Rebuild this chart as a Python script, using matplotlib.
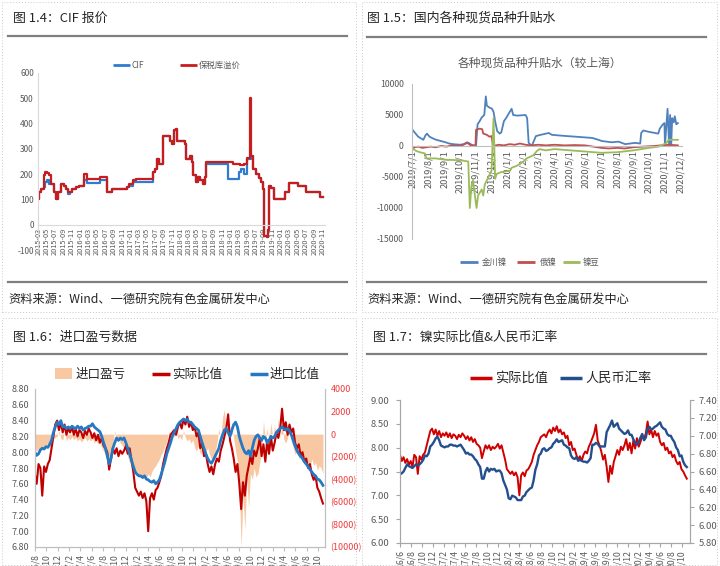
import numpy as np
import pandas as pd
import matplotlib as mpl
mpl.use('Agg')
import matplotlib.pyplot as plt
from matplotlib.lines import Line2D
from matplotlib.patches import Rectangle
import matplotlib.ticker as mticker

plt.rcParams['font.family'] = ['Noto Sans CJK SC', 'DejaVu Sans']
plt.rcParams['axes.unicode_minus'] = False

W, H = 720, 566
GRAY = '#595959'

# ---------------- 图1.4 CIF报价 (step data) ----------------
prem_dates = ['2015-03-01', '2015-03-05', '2015-03-20', '2015-04-08', '2015-04-20', '2015-05-05',
              '2015-05-15', '2015-06-01', '2015-06-20', '2015-07-10', '2015-07-25', '2015-08-15',
              '2015-09-01', '2015-09-15', '2015-10-01', '2015-11-01', '2015-12-01', '2015-12-20',
              '2016-01-25', '2016-02-15', '2016-05-20', '2016-07-12', '2016-08-15', '2016-12-05',
              '2016-12-20', '2017-01-22', '2017-02-10', '2017-06-10', '2017-06-25', '2017-07-10',
              '2017-07-15', '2017-07-25', '2017-08-28', '2017-10-15', '2017-10-28', '2017-11-10',
              '2017-11-25', '2017-12-08', '2018-02-01', '2018-02-12', '2018-03-10', '2018-03-25',
              '2018-04-03', '2018-04-20', '2018-05-10', '2018-05-25', '2018-06-10', '2018-06-25',
              '2018-07-03', '2019-01-20', '2019-03-10', '2019-04-10', '2019-05-01', '2019-05-20',
              '2019-05-22', '2019-05-26', '2019-06-12', '2019-07-06', '2019-07-25', '2019-08-12',
              '2019-08-25', '2019-08-30', '2019-09-20', '2019-09-30', '2019-10-10', '2019-10-25',
              '2019-11-10', '2020-02-01', '2020-03-03', '2020-05-03', '2020-07-03', '2020-10-10',
              '2020-11-05']
prem_vals = [100, 130, 140, 195, 210, 205,
             195, 160, 130, 100, 130, 160,
             155, 140, 130, 140, 150, 155,
             200, 180, 190, 130, 140, 150,
             160, 175, 180, 210, 220, 235,
             260, 240, 350, 330, 320, 375,
             380, 330, 320, 260, 270, 250,
             195, 170, 190, 175, 160, 190,
             250, 240, 235, 240, 265, 275,
             500, 270, 220, 200, 185, 170,
             140, -45, -50, -20, 155, 145,
             100, 130, 165, 155, 130, 110,
             110]

cif_dates = ['2015-03-01', '2015-03-05', '2015-03-20', '2015-04-08', '2015-04-20', '2015-05-05',
             '2015-05-15', '2015-06-01', '2015-06-20', '2015-07-10', '2015-07-25', '2015-08-15',
             '2015-09-01', '2015-09-15', '2015-10-01', '2015-10-20', '2015-11-01', '2015-12-01',
             '2015-12-20', '2016-01-25', '2016-02-15', '2016-05-20', '2016-07-12', '2016-08-15',
             '2016-12-05', '2016-12-20', '2017-01-22', '2017-06-10', '2017-06-25', '2017-07-10',
             '2017-07-15', '2017-07-25', '2017-08-28', '2017-10-15', '2017-10-28', '2017-11-10',
             '2017-11-25', '2017-12-08', '2018-02-01', '2018-02-12', '2018-03-10', '2018-03-25',
             '2018-04-03', '2018-04-20', '2018-05-10', '2018-05-25', '2018-06-10', '2018-06-25',
             '2018-07-03', '2018-12-12', '2019-03-01', '2019-03-20', '2019-04-10', '2019-05-01',
             '2019-05-26', '2019-06-12', '2019-07-06', '2019-07-25', '2019-08-12', '2019-08-25',
             '2019-08-30', '2019-09-20', '2019-09-30', '2019-10-10', '2019-10-25', '2019-11-10',
             '2020-02-01', '2020-03-03', '2020-05-03', '2020-07-03', '2020-10-10', '2020-11-05']
cif_vals = [100, 130, 140, 150, 170, 175,
            160, 160, 130, 100, 130, 160,
            155, 140, 120, 130, 140, 150,
            155, 175, 165, 175, 130, 140,
            150, 155, 170, 210, 220, 235,
            260, 240, 350, 330, 320, 375,
            380, 330, 320, 260, 270, 250,
            195, 170, 190, 175, 160, 190,
            240, 180, 210, 220, 200, 260,
            270, 220, 200, 185, 170, 140,
            -45, -50, -20, 155, 145, 100,
            130, 165, 155, 130, 110, 110]

# ---------------- 图1.5 升贴水 ----------------
jc_dates = ['2019-07-01', '2019-07-04', '2019-07-08', '2019-07-12', '2019-07-18', '2019-07-22',
            '2019-07-26', '2019-07-29', '2019-08-03', '2019-08-10', '2019-08-16', '2019-08-25',
            '2019-09-03', '2019-09-10', '2019-09-17', '2019-09-24', '2019-10-01', '2019-10-08',
            '2019-10-15', '2019-10-20', '2019-10-24', '2019-11-01', '2019-11-04', '2019-11-08',
            '2019-11-12', '2019-11-17', '2019-11-20', '2019-11-22', '2019-11-27', '2019-12-02',
            '2019-12-05', '2019-12-08', '2019-12-12', '2019-12-17', '2019-12-20', '2019-12-25',
            '2019-12-30', '2020-01-06', '2020-01-09', '2020-01-12', '2020-01-20', '2020-02-05',
            '2020-02-08', '2020-02-11', '2020-02-17', '2020-02-25', '2020-03-05', '2020-03-21',
            '2020-03-27', '2020-04-10', '2020-04-25', '2020-05-12', '2020-05-28', '2020-06-13',
            '2020-06-25', '2020-07-02', '2020-07-21', '2020-08-03', '2020-08-16', '2020-09-04',
            '2020-09-14', '2020-09-16', '2020-09-20', '2020-09-30', '2020-10-06', '2020-10-19',
            '2020-10-22', '2020-10-28', '2020-10-31', '2020-11-01', '2020-11-06', '2020-11-09',
            '2020-11-11', '2020-11-13', '2020-11-15', '2020-11-18', '2020-11-20', '2020-11-23',
            '2020-11-26']
jc_vals = [2600, 2300, 1900, 1500, 1200, 1000,
           1700, 2000, 1500, 1200, 1000, 800,
           600, 400, 300, 250, 200, 300,
           600, 400, 150, 0, 3500, 4000,
           4600, 5000, 8000, 6500, 6200, 6000,
           5500, 4000, 2400, 2000, 2200, 4000,
           4600, 5600, 6000, 5000, 4900, 5000,
           4500, 500, 0, 1600, 1800, 2100,
           1800, 1700, 1600, 1500, 1400, 1300,
           1000, 800, 600, 700, 300, 500,
           400, 2100, 2500, 2300, 2200, 2000,
           2800, 3500, 3700, 0, 6000, 100,
           5000, 0, 4500, 3800, 4800, 3500,
           3700]

ru_dates = ['2019-07-01', '2019-07-05', '2019-07-12', '2019-07-20', '2019-07-28', '2019-08-05',
            '2019-08-15', '2019-08-25', '2019-09-05', '2019-09-15', '2019-09-25', '2019-10-05',
            '2019-10-15', '2019-10-22', '2019-10-31', '2019-11-01', '2019-11-08', '2019-11-13',
            '2019-11-15', '2019-11-22', '2019-11-27', '2019-12-01', '2019-12-04', '2019-12-15',
            '2019-12-25', '2020-01-05', '2020-01-15', '2020-01-25', '2020-02-05', '2020-02-15',
            '2020-03-01', '2020-03-15', '2020-04-01', '2020-04-20', '2020-05-10', '2020-05-30',
            '2020-06-15', '2020-07-01', '2020-07-15', '2020-08-01', '2020-08-15', '2020-09-01',
            '2020-09-20', '2020-10-10', '2020-10-25', '2020-11-10', '2020-11-26']
ru_vals = [-500, -200, -100, -300, -200, -100,
           -200, 0, -100, 100, 0, 100,
           500, 100, 100, 2600, 2800, 2700,
           2000, 1800, 1500, 1600, 0, 200,
           100, 300, 200, 400, 200, 100,
           200, 100, 200, 100, 150, 100,
           -100, -300, -400, -300, -400, -200,
           -100, 0, 100, 200, 100]

nd_dates = ['2019-07-01', '2019-07-08', '2019-07-15', '2019-07-25', '2019-07-28', '2019-08-15',
            '2019-09-01', '2019-10-01', '2019-10-17', '2019-10-20', '2019-10-23', '2019-10-26',
            '2019-11-02', '2019-11-05', '2019-11-12', '2019-11-15', '2019-11-18', '2019-11-25',
            '2019-12-01', '2019-12-05', '2019-12-08', '2019-12-11', '2019-12-20', '2020-01-06',
            '2020-01-09', '2020-01-19', '2020-02-01', '2020-02-07', '2020-02-20', '2020-02-27',
            '2020-03-03', '2020-03-15', '2020-04-01', '2020-05-01', '2020-06-01', '2020-07-01',
            '2020-08-01', '2020-09-01', '2020-10-01', '2020-10-20', '2020-11-04', '2020-11-08',
            '2020-11-26']
nd_vals = [-400, -800, -1000, -1200, -2000, -2000,
           -2200, -2300, -2500, -10000, -6500, -5500,
           -10000, -8000, -7000, -8000, -6200, -5000,
           -4000, 4500, -5300, -4500, -4200, -4000,
           -3500, -3200, -2500, -2000, -1500, -800,
           -500, -700, -500, -700, -900, -1100,
           -1000, -700, -300, -100, 500, 1000,
           1000]

# ---------------- 图1.6 / 1.7 (10-day grid from 2016-06-01) ----------------
ratio_actual = [
    7.85, 7.72, 7.80, 7.68, 7.76, 7.64, 7.72, 7.60, 7.85,
    7.80, 7.45, 7.82, 7.75, 7.85, 7.90, 8.05, 8.20, 8.35,
    8.40, 8.28, 8.38, 8.25, 8.35, 8.22, 8.30, 8.25, 8.32,
    8.22, 8.30, 8.20, 8.28, 8.25, 8.18, 8.27, 8.22, 8.30,
    8.25, 8.18, 8.24, 8.15, 8.22, 8.12, 8.18, 8.08, 8.05,
    8.00, 7.78, 7.92, 8.05, 7.98, 8.05, 7.95, 8.02, 7.98,
    8.02, 8.08, 7.98, 8.05, 7.90, 7.75, 7.55, 7.50, 7.45,
    7.50, 7.42, 7.48, 7.38, 7.00, 7.42, 7.48, 7.40, 7.52,
    7.55, 7.62, 7.70, 7.85, 7.95, 8.05, 8.12, 8.22, 8.25,
    8.28, 8.22, 8.32, 8.38, 8.30, 8.42, 8.35, 8.45, 8.32,
    8.38, 8.28, 8.32, 8.20, 8.25, 8.05, 8.12, 7.95, 7.98,
    7.85, 7.75, 7.82, 7.72, 7.85, 7.92, 7.88, 8.02, 8.10,
    8.20, 8.30, 8.48, 8.15, 8.05, 7.92, 7.75, 7.85, 7.60,
    7.28, 7.62, 7.45, 7.70, 7.82, 7.95, 7.85, 8.02, 7.95,
    8.05, 8.18, 7.95, 8.10, 7.88, 8.15, 7.98, 8.20, 8.02,
    8.12, 8.25, 8.18, 8.30, 8.55, 8.28, 8.38, 8.22, 8.35,
    8.25, 8.30, 8.12, 8.05, 8.10, 7.95, 8.00, 7.88, 7.92,
    7.80, 7.85, 7.72, 7.65, 7.70, 7.55, 7.50, 7.42, 7.35,
]
ratio_import = [
    7.95, 7.98, 8.00, 7.97, 8.02, 7.98, 8.00, 7.96, 7.98,
    8.03, 8.05, 8.04, 8.07, 8.06, 8.10, 8.15, 8.25, 8.32,
    8.38, 8.35, 8.40, 8.32, 8.33, 8.30, 8.32, 8.30, 8.33,
    8.31, 8.30, 8.33, 8.30, 8.32, 8.28, 8.30, 8.31, 8.33,
    8.33, 8.36, 8.32, 8.30, 8.28, 8.26, 8.20, 8.12, 8.05,
    7.95, 7.85, 7.92, 8.05, 8.12, 8.18, 8.15, 8.18, 8.16,
    8.18, 8.12, 8.05, 7.98, 7.90, 7.82, 7.75, 7.72, 7.70,
    7.70, 7.68, 7.70, 7.66, 7.65, 7.63, 7.62, 7.64, 7.60,
    7.62, 7.65, 7.72, 7.80, 7.88, 7.98, 8.05, 8.12, 8.20,
    8.25, 8.30, 8.35, 8.38, 8.40, 8.42, 8.40, 8.42, 8.38,
    8.38, 8.35, 8.32, 8.30, 8.28, 8.20, 8.12, 8.05, 7.98,
    7.92, 7.88, 7.86, 7.90, 7.95, 8.00, 8.05, 8.15, 8.22,
    8.28, 8.30, 8.25, 8.20, 8.28, 8.35, 8.38, 8.32, 8.20,
    8.12, 8.05, 8.00, 7.98, 8.02, 7.95, 8.05, 8.15, 8.20,
    8.22, 8.18, 8.15, 8.20, 8.18, 8.12, 8.15, 8.20, 8.18,
    8.20, 8.25, 8.28, 8.30, 8.32, 8.30, 8.28, 8.30, 8.27,
    8.22, 8.15, 8.08, 8.02, 7.98, 7.95, 7.92, 7.88, 7.85,
    7.82, 7.78, 7.75, 7.72, 7.70, 7.66, 7.65, 7.62, 7.58,
]
import_pnl = [
    -1500, -1200, -1800, -1000, -1400, -1600, -1200, -1500, -1300,
    -1500, -1200, -1400, -1000, -800, -1200, -600, -400, -300,
    -200, 300, -400, -500, 200, -600, -300, -500, -200,
    -500, -300, -600, -400, -700, -500, -300, -600, -400,
    -600, -400, -800, -500, -900, -700, -1200, -1500, -1800,
    -2000, -2500, -1500, -800, 300, -600, -400, -800, -1000,
    -1200, -1500, -2000, -2500, -2800, -3200, -3500, -3300, -3800,
    -3800, -4000, -3600, -3900, -3500, -3800, -3300, -3000, -2800,
    -2500, -2200, -1800, -1500, -1000, -700, 300, -500, 500,
    -300, 200, -400, -200, -500, 300, -300, -600, -400,
    -800, -500, -1200, -1500, -1000, -1800, -1500, -2000, -1600,
    -1200, -1800, -2200, -2400, -1500, -800, 500, -400, 1500,
    2200, -300, 1000, -500, 800, -400, -1500, -2500, -5000,
    -10000, -5500, -8500, -4000, -6500, -3500, -4000, -3000, -3800,
    -3500, -2500, -1500, 1200, -800, 500, -500, 1000, -300,
    800, -500, 1500, -300, 1000, -500, -800, -300, 400,
    -600, -1200, -1800, -1500, -2200, -1800, -2500, -2200, -2800,
    -2500, -3000, -2200, -2800, -2500, -3200, -2800, -3000, -3500,
]
usdcny = [
    6.57, 6.58, 6.60, 6.64, 6.68, 6.66, 6.65, 6.64, 6.66,
    6.68, 6.67, 6.68, 6.70, 6.73, 6.78, 6.77, 6.80, 6.88,
    6.90, 6.93, 6.97, 6.99, 6.95, 6.89, 6.88, 6.87, 6.88,
    6.88, 6.90, 6.90, 6.89, 6.89, 6.88, 6.89, 6.90, 6.87,
    6.84, 6.80, 6.81, 6.79, 6.79, 6.77, 6.74, 6.72, 6.68,
    6.65, 6.52, 6.52, 6.60, 6.64, 6.60, 6.63, 6.62, 6.63,
    6.60, 6.61, 6.61, 6.58, 6.50, 6.45, 6.40, 6.30, 6.29,
    6.33, 6.32, 6.31, 6.28, 6.28, 6.28, 6.32, 6.33, 6.37,
    6.39, 6.41, 6.42, 6.50, 6.62, 6.68, 6.78, 6.80, 6.85,
    6.86, 6.83, 6.84, 6.86, 6.87, 6.91, 6.93, 6.96, 6.93,
    6.94, 6.95, 6.90, 6.89, 6.87, 6.86, 6.78, 6.75, 6.74,
    6.76, 6.72, 6.73, 6.72, 6.71, 6.71, 6.70, 6.72, 6.75,
    6.90, 6.90, 6.92, 6.91, 6.88, 6.88, 6.88, 6.88, 7.04,
    7.08, 7.12, 7.17, 7.10, 7.12, 7.14, 7.08, 7.06, 7.04,
    7.02, 7.03, 7.06, 7.01, 7.01, 6.96, 6.92, 6.90, 6.93,
    6.98, 7.02, 6.95, 6.98, 7.08, 7.10, 7.07, 7.08, 7.10,
    7.11, 7.13, 7.15, 7.10, 7.08, 7.07, 7.02, 7.00, 7.00,
    6.96, 6.93, 6.87, 6.84, 6.77, 6.78, 6.71, 6.67, 6.65,
]
grid = pd.date_range('2016-06-01', periods=len(ratio_actual), freq='10D')

# ---------------- helpers ----------------
fig = plt.figure(figsize=(W / 100, H / 100), dpi=100)
fig.patch.set_facecolor('white')


def add_ax(x0, y0, x1, y1):
    return fig.add_axes([x0 / W, 1 - y1 / H, (x1 - x0) / W, (y1 - y0) / H])


def ftext(x, y, s, **kw):
    kw.setdefault('va', 'center')
    fig.text(x / W, 1 - y / H, s, **kw)


def fline(x0, x1, y0, y1, **kw):
    fig.add_artist(Line2D([x0 / W, x1 / W], [1 - y0 / H, 1 - y1 / H],
                          transform=fig.transFigure, **kw))


def leg_line(x0, x1, y, color, label, tx, size, tcolor=GRAY, lw=2):
    fline(x0, x1, y, y, color=color, lw=lw, solid_capstyle='butt')
    ftext(tx, y, label, fontsize=size, color=tcolor)


def to_dt(lst):
    return pd.to_datetime(lst)


# panel frames (dotted)
for bx0, by0, bx1, by1 in [(2, 2, 356, 312), (362, 2, 717, 312),
                           (2, 318, 356, 565), (362, 318, 717, 565)]:
    fig.add_artist(Rectangle((bx0 / W, 1 - by1 / H), (bx1 - bx0) / W, (by1 - by0) / H,
                             transform=fig.transFigure, fill=False, ec='#c8c8c8',
                             lw=0.7, ls=(0, (1, 2))))

# titles, rules, sources
src = '资料来源：Wind、一德研究院有色金属研发中心'
ftext(13, 18, '图 1.4：CIF 报价', fontsize=9.3, color='#262626')
ftext(367, 18, '图 1.5：国内各种现货品种升贴水', fontsize=9.3, color='#262626')
ftext(13, 337, '图 1.6：进口盈亏数据', fontsize=9.3, color='#262626')
ftext(373, 337, '图 1.7：镍实际比值&人民币汇率', fontsize=9.3, color='#262626')
for (a, b, y) in [(8, 347, 36), (367, 706, 37), (8, 347, 282), (367, 706, 282),
                  (8, 347, 354), (367, 706, 354)]:
    fline(a, b, y, y, color='#7f7f7f', lw=1.6)
ftext(8, 300, src, fontsize=8.8, color='#262626')
ftext(367, 300, src, fontsize=8.8, color='#262626')

# ---------------- panel 1 ----------------
ax1 = add_ax(38, 73, 325, 250)
ax1.spines['bottom'].set_position(('data', 0))
ax1.plot(to_dt(cif_dates), cif_vals, color='#2E7BCF', lw=1.6, drawstyle='steps-post')
ax1.plot(to_dt(prem_dates), prem_vals, color='#C81D1D', lw=1.6, drawstyle='steps-post')
ax1.set_ylim(-100, 600)
ax1.set_yticks(range(-100, 601, 100))
ax1.set_xlim(pd.Timestamp('2015-02-26'), pd.Timestamp('2020-11-18'))
t1 = pd.date_range('2015-03-01', '2020-11-01', freq='2MS')
ax1.set_xticks(t1)
ax1.set_xticklabels([d.strftime('%Y-%m') for d in t1])
for s in ['top', 'right']:
    ax1.spines[s].set_visible(False)
for s in ['left', 'bottom']:
    ax1.spines[s].set_color('#d9d9d9')
ax1.tick_params(axis='y', length=0, labelsize=6, colors=GRAY, pad=3)
ax1.tick_params(axis='x', length=0, pad=2, labelrotation=90, labelsize=5.3, labelcolor=GRAY)
ax1.patch.set_alpha(0)
leg_line(113, 130, 65, '#2E7BCF', 'CIF', 132, 6)
leg_line(180, 197, 65, '#C81D1D', '保税库溢价', 199, 6)

# ---------------- panel 2 ----------------
ax2 = add_ax(412, 84, 682, 239)
ax2.spines['bottom'].set_position(('data', 0))
ax2.plot(to_dt(jc_dates), jc_vals, color='#4F81BD', lw=1.3)
ax2.plot(to_dt(ru_dates), ru_vals, color='#C0504D', lw=1.3)
ax2.plot(to_dt(nd_dates), nd_vals, color='#9BBB59', lw=1.3)
ax2.set_ylim(-15000, 10000)
ax2.set_yticks(range(-15000, 10001, 5000))
ax2.set_xlim(pd.Timestamp('2019-06-30'), pd.Timestamp('2020-12-04'))
t2 = pd.date_range('2019-07-01', '2020-12-01', freq='MS')
ax2.set_xticks(t2)
ax2.set_xticklabels([f'{d.year}/{d.month}/{d.day}' for d in t2])
for s in ['top', 'right']:
    ax2.spines[s].set_visible(False)
for s in ['left', 'bottom']:
    ax2.spines[s].set_color('#bfbfbf')
ax2.tick_params(axis='y', length=0, labelsize=6.3, colors=GRAY, pad=6)
ax2.tick_params(axis='x', length=0, pad=3, labelrotation=90, labelsize=6.6, labelcolor=GRAY)
ax2.patch.set_alpha(0)
ftext(540, 63, '各种现货品种升贴水（较上海）', fontsize=8.5, color=GRAY, ha='center')
leg_line(460, 478, 262, '#4F81BD', '金川镍', 482, 6)
leg_line(517, 535, 262, '#C0504D', '俄镍', 540, 6)
leg_line(563, 580, 262, '#9BBB59', '镍豆', 583, 6)

# ---------------- panel 3 ----------------
ORANGE = '#F8C8A2'
RED = '#C00000'
ax3 = add_ax(35, 389, 325, 547)
ax3.fill_between(grid, import_pnl, 0, color=ORANGE, lw=0)
ax3.set_ylim(-10000, 4000)
ax3.set_yticks(range(-10000, 4001, 2000))
ax3l = ax3.twinx()
ax3l.plot(grid, ratio_actual, color=RED, lw=1.5)
ax3l.plot(grid, ratio_import, color='#2478C4', lw=2.0)
ax3l.set_ylim(6.8, 8.8)
ax3l.set_yticks(np.arange(6.8, 8.81, 0.2))
ax3l.yaxis.set_major_formatter(mticker.FormatStrFormatter('%.2f'))
ax3.yaxis.tick_right()
ax3l.yaxis.tick_left()
ax3.yaxis.set_major_formatter(mticker.FuncFormatter(
    lambda v, p: f'({abs(v):.0f})' if v < 0 else f'{v:.0f}'))
ax3.set_xlim(pd.Timestamp('2016-08-03'), pd.Timestamp('2020-11-08'))
t3 = pd.date_range('2016-08-01', '2020-10-01', freq='2MS')
ax3.set_xticks(t3)
ax3.set_xticklabels([f'{d.year % 100}/{d.month}' for d in t3], rotation=90, fontsize=6.3, color=GRAY)
for a in (ax3, ax3l):
    a.spines['top'].set_visible(False)
    for s in ['left', 'right', 'bottom']:
        a.spines[s].set_color('#bfbfbf')
ax3.tick_params(axis='y', length=0, labelsize=6.5, colors='#F03C3C', pad=4)
ax3l.tick_params(axis='y', length=0, labelsize=6.5, colors=GRAY, pad=4)
ax3.tick_params(axis='x', length=3, color='#bfbfbf', pad=2)
rect = Rectangle((55 / W, 1 - 379 / H), 17 / W, 11 / H, transform=fig.transFigure,
                 color=ORANGE, lw=0)
fig.add_artist(rect)
ftext(76, 374, '进口盈亏', fontsize=9, color='#262626')
leg_line(152, 170, 374, RED, '实际比值', 172, 9, tcolor='#262626', lw=2.5)
leg_line(250, 268, 374, '#2478C4', '进口比值', 270, 9, tcolor='#262626', lw=2.5)

# ---------------- panel 4 ----------------
NAVY = '#254E8E'
ax4 = add_ax(400, 400, 690, 543)
ax4.plot(grid, ratio_actual, color='#D00000', lw=1.4)
ax4.set_ylim(6.0, 9.0)
ax4.set_yticks(np.arange(6.0, 9.01, 0.5))
ax4.yaxis.set_major_formatter(mticker.FormatStrFormatter('%.2f'))
ax4r = ax4.twinx()
ax4r.plot(grid, usdcny, color=NAVY, lw=1.7)
ax4r.set_ylim(5.8, 7.4)
ax4r.set_yticks(np.arange(5.8, 7.41, 0.2))
ax4r.yaxis.set_major_formatter(mticker.FormatStrFormatter('%.2f'))
ax4.set_xlim(pd.Timestamp('2016-06-01'), pd.Timestamp('2020-11-15'))
t4 = pd.date_range('2016-06-01', '2020-10-01', freq='2MS')
ax4.set_xticks(t4)
ax4.set_xticklabels([f'{d.year % 100}/{d.month}' for d in t4], rotation=90, fontsize=6.3, color=GRAY)
for a in (ax4, ax4r):
    a.spines['top'].set_visible(False)
    for s in ['left', 'right', 'bottom']:
        a.spines[s].set_color('#a6a6a6')
ax4.tick_params(axis='y', length=3, labelsize=6.8, colors=GRAY, pad=5, color='#a6a6a6')
ax4r.tick_params(axis='y', length=3, labelsize=6.8, colors=GRAY, pad=3, color='#a6a6a6')
ax4.tick_params(axis='x', length=3, color='#a6a6a6', pad=2)
leg_line(470, 492, 378, '#D00000', '实际比值', 495, 9.5, tcolor='#262626', lw=2.5)
leg_line(560, 582, 378, NAVY, '人民币汇率', 585, 9.5, tcolor='#262626', lw=2.5)

fig.savefig('out.png', dpi=100)
